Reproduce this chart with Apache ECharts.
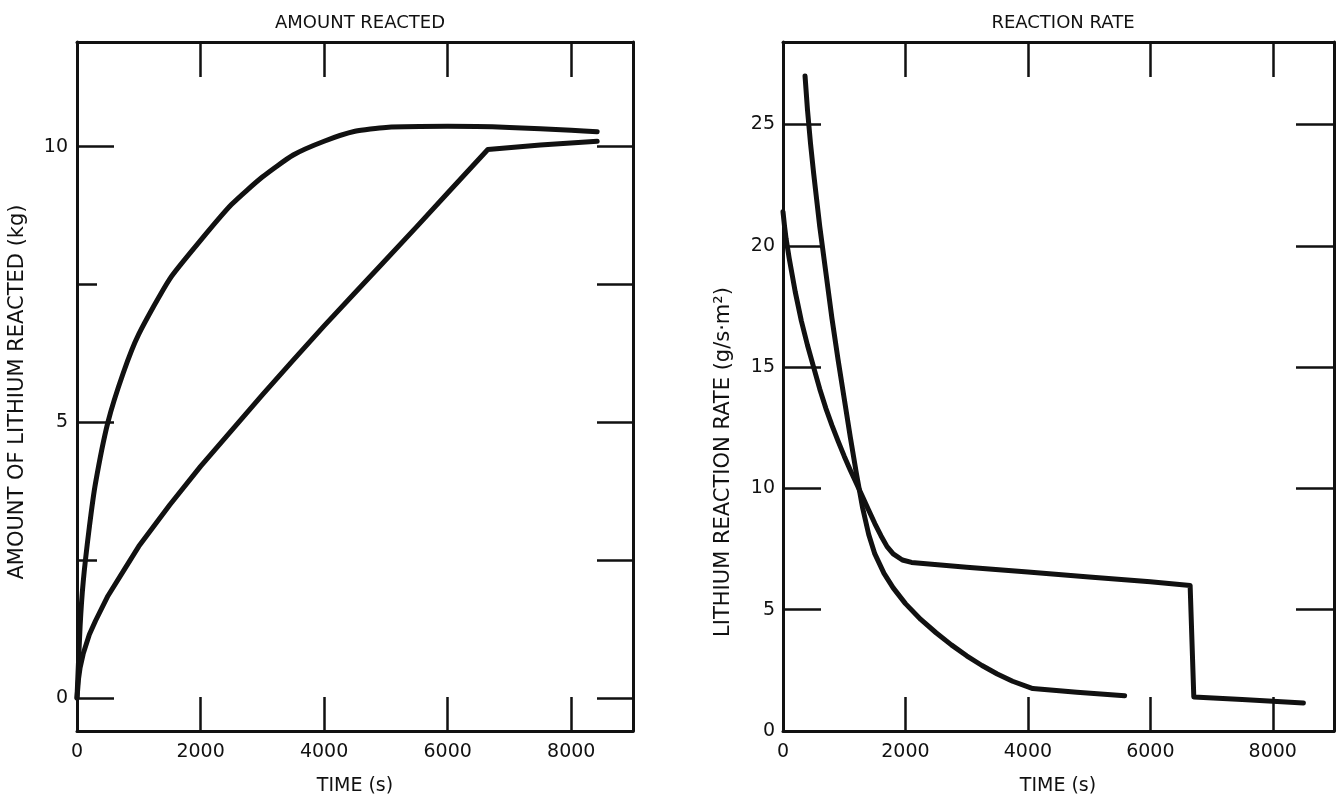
<!DOCTYPE html>
<html>
<head>
<meta charset="utf-8">
<script src="https://cdn.jsdelivr.net/npm/echarts@6/dist/echarts.min.js"></script>
<style>
html,body{margin:0;padding:0;background:#fff;}
#chart{width:1344px;height:797px;}
</style>
</head>
<body>
<div id="chart"></div>
<script>
// ---- data ----
const titles = ['AMOUNT REACTED', 'REACTION RATE'];
const xName = 'TIME (s)';
const yNameLeft = 'AMOUNT OF LITHIUM REACTED (kg)';
const yNameRight = 'LITHIUM REACTION RATE (g/s·m²)';
const xTickLabels = [0, 2000, 4000, 6000, 8000];
const xTicks = [2000, 4000, 6000, 8000];
const leftYLabels = [0, 5, 10];
const leftYMinorTicks = [2.5, 7.5];
const leftYRightTicks = [0, 2.5, 5, 7.5, 10];
const rightYLabels = [0, 5, 10, 15, 20, 25];
const rightYTicks = [5, 10, 15, 20, 25];

const amountFastT = [0, 50, 100, 200, 300, 500, 750, 1000, 1500, 2000, 2500, 3000, 3500, 4000, 4500, 5000, 6000, 7000, 8000, 8420];
const amountFastV = [0, 1.3, 2.1, 3.1, 3.9, 5.0, 5.9, 6.6, 7.6, 8.3, 8.95, 9.45, 9.85, 10.1, 10.28, 10.35, 10.37, 10.35, 10.3, 10.27];
const amountSlowT = [0, 25, 50, 100, 200, 300, 500, 750, 1000, 1500, 2000, 2500, 3000, 3500, 4000, 4500, 5000, 5500, 6000, 6650, 7500, 8420];
const amountSlowV = [0, 0.35, 0.55, 0.8, 1.15, 1.4, 1.85, 2.3, 2.75, 3.5, 4.2, 4.85, 5.5, 6.13, 6.75, 7.35, 7.95, 8.55, 9.16, 9.95, 10.03, 10.1];

const rateFastT = [360, 400, 450, 500, 550, 600, 700, 800, 900, 1000, 1100, 1200, 1300, 1400, 1500, 1650, 1800, 2000, 2250, 2500, 2750, 3000, 3250, 3500, 3750, 4080, 4800, 5580];
const rateFastV = [27.0, 25.6, 24.2, 23.0, 21.9, 20.8, 18.9, 17.0, 15.3, 13.7, 12.1, 10.6, 9.2, 8.1, 7.3, 6.5, 5.9, 5.25, 4.6, 4.05, 3.55, 3.1, 2.7, 2.35, 2.05, 1.75, 1.6, 1.45];
const rateSlowT = [0, 25, 50, 100, 150, 200, 300, 400, 500, 600, 700, 800, 900, 1000, 1100, 1200, 1300, 1400, 1500, 1600, 1700, 1800, 1950, 2100, 3000, 4000, 5000, 6000, 6650, 6710, 7500, 8500];
const rateSlowV = [21.4, 20.8, 20.3, 19.5, 18.8, 18.1, 16.9, 15.9, 15.0, 14.1, 13.3, 12.6, 11.95, 11.33, 10.75, 10.2, 9.65, 9.1, 8.55, 8.05, 7.6, 7.3, 7.05, 6.95, 6.75, 6.55, 6.35, 6.15, 6.0, 1.4, 1.3, 1.15];

const zip = (a, b) => a.map((v, i) => [v, b[i]]);

const INK = '#111';
const FONT = 'DejaVu Sans';
const grids = [
  {left: 77, top: 42, width: 556, height: 689},
  {left: 783, top: 42, width: 551, height: 689}
];
const plain = v => String(v);

function xAxes(gi) {
  const base = {
    type: 'value', gridIndex: gi, min: 0, max: 9000,
    splitLine: {show: false},
    axisLine: {show: true, onZero: false, lineStyle: {color: INK, width: 3}}
  };
  return [
    Object.assign({}, base, {
      position: 'bottom',
      axisTick: {show: true, inside: true, length: 34, customValues: xTicks, lineStyle: {color: INK, width: 2.5}},
      axisLabel: {show: true, customValues: xTickLabels, formatter: plain, margin: 12, color: INK, fontFamily: FONT, fontSize: 19}
    }),
    Object.assign({}, base, {
      position: 'top',
      axisTick: {show: true, inside: true, length: 35, customValues: xTicks, lineStyle: {color: INK, width: 2.5}},
      axisLabel: {show: false}
    })
  ];
}

const nameFont = '21px "DejaVu Sans"';
const lineBase = {type: 'line', showSymbol: false, smooth: false, lineStyle: {color: INK, width: 5, cap: 'round', join: 'round'}};
const option = {
  backgroundColor: '#fff',
  animation: false,
  title: [
    {text: titles[0], left: 355, top: 9, textAlign: 'center', textStyle: {color: INK, fontFamily: FONT, fontSize: 18, fontWeight: 'normal'}},
    {text: titles[1], left: 1058, top: 9, textAlign: 'center', textStyle: {color: INK, fontFamily: FONT, fontSize: 18, fontWeight: 'normal'}}
  ],
  grid: grids,
  xAxis: [].concat(xAxes(0), xAxes(1)),
  yAxis: [
    // left chart
    {type: 'value', gridIndex: 0, min: -0.6, max: 11.9, position: 'left', splitLine: {show: false},
     axisLine: {show: true, onZero: false, lineStyle: {color: INK, width: 3}},
     axisTick: {show: true, inside: true, length: 37, customValues: leftYLabels, lineStyle: {color: INK, width: 2.5}},
     axisLabel: {show: true, customValues: leftYLabels, formatter: plain, margin: 9, color: INK, fontFamily: FONT, fontSize: 19}},
    {type: 'value', gridIndex: 0, min: -0.6, max: 11.9, position: 'left', splitLine: {show: false},
     axisLine: {show: false},
     axisTick: {show: true, inside: true, length: 20, customValues: leftYMinorTicks, lineStyle: {color: INK, width: 2.5}},
     axisLabel: {show: false}},
    {type: 'value', gridIndex: 0, min: -0.6, max: 11.9, position: 'right', splitLine: {show: false},
     axisLine: {show: true, onZero: false, lineStyle: {color: INK, width: 3}},
     axisTick: {show: true, inside: true, length: 36, customValues: leftYRightTicks, lineStyle: {color: INK, width: 2.5}},
     axisLabel: {show: false}},
    // right chart
    {type: 'value', gridIndex: 1, min: 0, max: 28.4, position: 'left', splitLine: {show: false},
     axisLine: {show: true, onZero: false, lineStyle: {color: INK, width: 3}},
     axisTick: {show: true, inside: true, length: 38, customValues: rightYTicks, lineStyle: {color: INK, width: 2.5}},
     axisLabel: {show: true, customValues: rightYLabels, formatter: plain, margin: 8, color: INK, fontFamily: FONT, fontSize: 19}},
    {type: 'value', gridIndex: 1, min: 0, max: 28.4, position: 'right', splitLine: {show: false},
     axisLine: {show: true, onZero: false, lineStyle: {color: INK, width: 3}},
     axisTick: {show: true, inside: true, length: 38, customValues: rightYTicks, lineStyle: {color: INK, width: 2.5}},
     axisLabel: {show: false}}
  ],
  graphic: [
    {type: 'text', x: 18, y: 392, rotation: Math.PI / 2, style: {text: yNameLeft, fill: INK, font: nameFont, align: 'center', verticalAlign: 'middle', textAlign: 'center', textVerticalAlign: 'middle'}},
    {type: 'text', x: 724, y: 462, rotation: Math.PI / 2, style: {text: yNameRight, fill: INK, font: nameFont, align: 'center', verticalAlign: 'middle', textAlign: 'center', textVerticalAlign: 'middle'}},
    {type: 'text', x: 355, y: 786, style: {text: xName, fill: INK, font: '19px "DejaVu Sans"', align: 'center', verticalAlign: 'middle', textAlign: 'center', textVerticalAlign: 'middle'}},
    {type: 'text', x: 1058, y: 786, style: {text: xName, fill: INK, font: '19px "DejaVu Sans"', align: 'center', verticalAlign: 'middle', textAlign: 'center', textVerticalAlign: 'middle'}}
  ],
  series: [
    Object.assign({}, lineBase, {xAxisIndex: 0, yAxisIndex: 0, data: zip(amountFastT, amountFastV), smooth: 0.2}),
    Object.assign({}, lineBase, {xAxisIndex: 0, yAxisIndex: 0, data: zip(amountSlowT, amountSlowV)}),
    Object.assign({}, lineBase, {xAxisIndex: 2, yAxisIndex: 3, data: zip(rateFastT, rateFastV)}),
    Object.assign({}, lineBase, {xAxisIndex: 2, yAxisIndex: 3, data: zip(rateSlowT, rateSlowV)})
  ]
};

const chart = echarts.init(document.getElementById('chart'), null, {renderer: 'canvas'});
chart.setOption(option);
</script>
</body>
</html>
